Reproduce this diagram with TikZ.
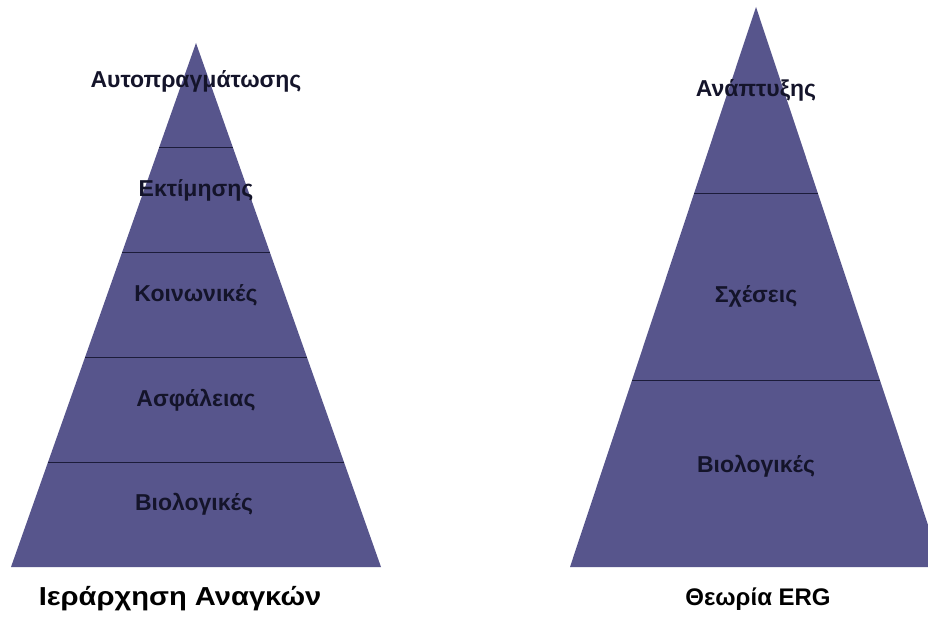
\documentclass[tikz,border=0pt]{standalone}
\usepackage{fontspec}
\setmainfont{Liberation Sans}
\usetikzlibrary{calc}
\definecolor{pyrfill}{RGB}{87,85,140}
\definecolor{pyrline}{RGB}{28,28,58}
\definecolor{lbltext}{RGB}{20,20,42}
\tikzset{
  lvl/.style={font=\bfseries\fontsize{23}{25}\selectfont, text=lbltext, inner sep=0pt},
  ttl/.style={font=\bfseries\fontsize{24}{27}\selectfont, text=black, inner sep=0pt},
  band/.style={draw=pyrline, line width=1.4pt},
}
\begin{document}
\begin{tikzpicture}[x=1pt,y=-1pt]
\useasboundingbox (0,0) rectangle (928,623);
\clip (0,0) rectangle (928,623);
\fill[white] (0,0) rectangle (928,623);
% left pyramid
\coordinate (LA) at (196,43);
\coordinate (LL) at (11,567);
\coordinate (LR) at (381,567);
\fill[pyrfill] (LA) -- (LL) -- (LR) -- cycle;
\foreach \t/\n in {0.2/1,0.4/2,0.6/3,0.8/4}{
  \coordinate (Ll\n) at ($(LA)!\t!(LL)$);
  \coordinate (Lr\n) at ($(LA)!\t!(LR)$);
  \draw[band] (Ll\n) -- (Lr\n);
}
% right pyramid
\coordinate (RA) at (756,7);
\coordinate (RL) at (570,567);
\coordinate (RR) at (942,567);
\fill[pyrfill] (RA) -- (RL) -- (RR) -- cycle;
\foreach \t/\n in {0.3333/1,0.6667/2}{
  \coordinate (Rl\n) at ($(RA)!\t!(RL)$);
  \coordinate (Rr\n) at ($(RA)!\t!(RR)$);
  \draw[band] (Rl\n) -- (Rr\n);
}
% labels
\node[lvl] (l1) at (196,81) {Αυτοπραγμάτωσης};
\node[lvl] (l2) at (196,190) {Εκτίμησης};
\node[lvl] (l3) at (196,295) {Κοινωνικές};
\node[lvl] (l4) at (196,400) {Ασφάλειας};
\node[lvl] (l5) at (194,504) {Βιολογικές};
\node[lvl] (r1) at (756,90) {Ανάπτυξης};
\node[lvl] (r2) at (756,296) {Σχέσεις};
\node[lvl] (r3) at (756,466) {Βιολογικές};
% titles
\node[ttl, font=\bfseries\fontsize{26}{29}\selectfont, xscale=1.12] (t1) at (180,599) {Ιεράρχηση Αναγκών};
\node[ttl] (t2) at (758,599) {Θεωρία ERG};
\end{tikzpicture}
\end{document}
